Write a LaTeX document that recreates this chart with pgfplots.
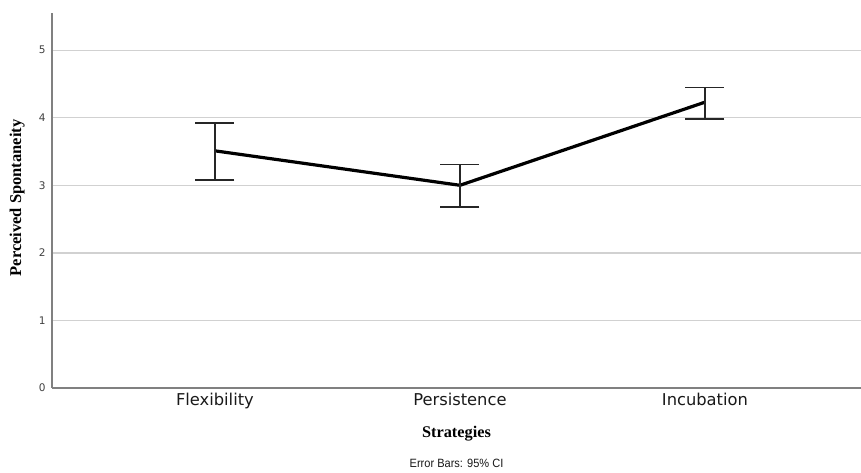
\documentclass[border=0pt]{standalone}
\usepackage{pgfplots}
\usepackage{pgfplotstable}
\pgfplotsset{compat=1.18}
\usepackage{fontspec}
\setmainfont{Liberation Serif}
\newfontfamily\ticksans{DejaVu Sans}
\newfontfamily\notesans{Liberation Sans}
\pgfplotstableread{
x y ep em
0 3.51 0.41 0.43
1 3.00 0.31 0.32
2 4.23 0.22 0.25
}\means
\begin{document}
\begin{tikzpicture}
\path[use as bounding box] (-52pt,-85pt) rectangle (809pt,388pt);
\begin{axis}[
  at={(0,0)}, anchor=south west,
  scale only axis, width=809pt, height=375pt,
  xmin=-0.665, xmax=2.637, ymin=0, ymax=5.55,
  clip=false,
  axis x line*=bottom, axis y line*=left,
  axis line style={draw=black!50, line width=1.3pt},
  major tick length=0pt,
  ytick={0,1,2,3,4,5},
  ymajorgrids, grid style={draw=black!18, line width=1.3pt},
  xtick={0,1,2},
  xticklabels={Flexibility,Persistence,Incubation},
  xticklabel style={font=\ticksans\fontsize{16.3}{19}\selectfont, anchor=base, yshift=-18pt, text=black!90},
  yticklabel style={font=\ticksans\fontsize{10.5}{12}\selectfont, text=black!75, anchor=east, xshift=-3pt, /pgf/number format/assume math mode=true},
  ylabel={\textbf{Perceived Spontaneity}},
  ylabel style={font=\fontsize{16.5}{19}\selectfont, at={(axis description cs:-0.043,0.507)}, anchor=center},
  xlabel={\textbf{Strategies}},
  xlabel style={font=\fontsize{16.3}{18}\selectfont, at={(axis description cs:0.5,0)}, anchor=base, yshift=-49pt},
]
\addplot[black, line width=3.2pt,
  error bars/.cd, y dir=both, y explicit,
  error bar style={line width=1.3pt, black!85},
  error mark options={rotate=90, mark size=19.5pt, line width=1.3pt, black!85}]
  table[x=x, y=y, y error plus=ep, y error minus=em] {\means};
\node[font=\notesans\fontsize{12}{14}\selectfont, xscale=0.92, anchor=base, text=black!90] at (axis description cs:0.5,0) [yshift=-79pt] {Error Bars: 95\% CI};
\end{axis}
\end{tikzpicture}
\end{document}
